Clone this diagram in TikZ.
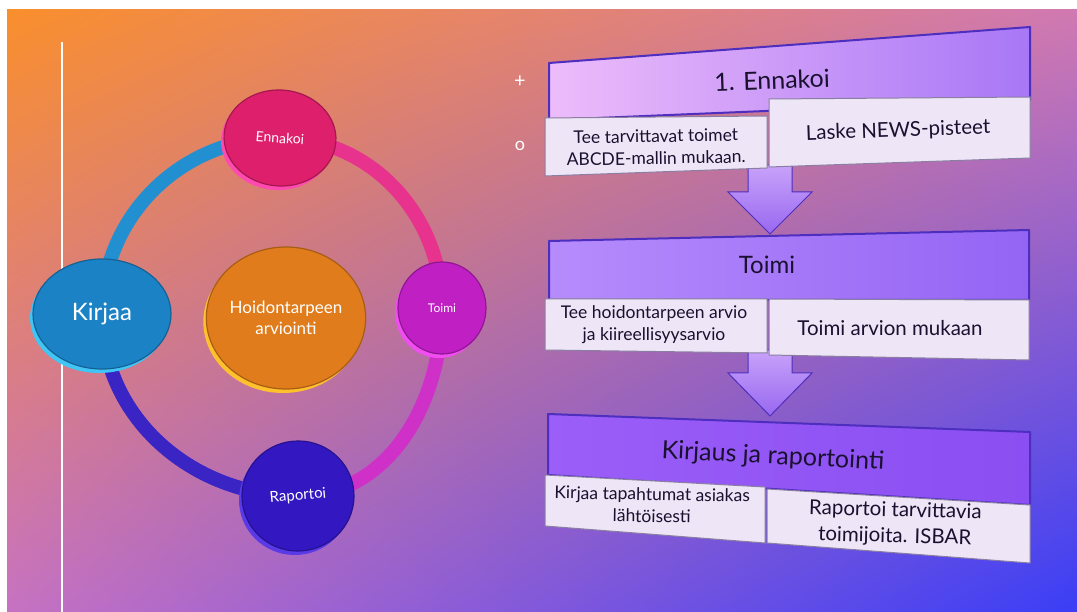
\documentclass[tikz,border=0pt]{standalone}
\usepackage{fontspec}
\setmainfont{Lato}
\usetikzlibrary{positioning,shapes.geometric,shadows,shadings,backgrounds}

\definecolor{bgorange}{HTML}{F98F2C}
\definecolor{bgmauve}{HTML}{D079B2}
\definecolor{bgmauveb}{HTML}{C672C2}
\definecolor{bgblue}{HTML}{3A3EF6}
\definecolor{ennfill}{HTML}{DE1F6C}
\definecolor{ennrim}{HTML}{FF4AB0}
\definecolor{toifill}{HTML}{C01FC4}
\definecolor{toirim}{HTML}{F04EF0}
\definecolor{rapfill}{HTML}{3318C2}
\definecolor{raprim}{HTML}{5A3AE6}
\definecolor{kirfill}{HTML}{1C82C6}
\definecolor{kirrim}{HTML}{3FC6F6}
\definecolor{hoifill}{HTML}{E07C1C}
\definecolor{hoirim}{HTML}{FFC02E}
\definecolor{ringblue}{HTML}{2290D0}
\definecolor{ringpink}{HTML}{E8338E}
\definecolor{ringmag}{HTML}{CF30C8}
\definecolor{ringind}{HTML}{3A24C4}
\definecolor{hdredge}{HTML}{4E2EBE}
\definecolor{h1l}{HTML}{EDBCFA}
\definecolor{h1r}{HTML}{A877F6}
\definecolor{h2l}{HTML}{B68CFC}
\definecolor{h2r}{HTML}{9464F4}
\definecolor{h3l}{HTML}{9B5EF8}
\definecolor{h3r}{HTML}{8A4EF2}
\definecolor{cellfill}{HTML}{EEE6F6}
\definecolor{celledge}{HTML}{8A7FA2}
\definecolor{boxtext}{HTML}{1A1030}
\definecolor{arrowlight}{HTML}{C8A2FA}
\definecolor{arrowdark}{HTML}{9868F0}

\begin{document}
\begin{tikzpicture}[x=1pt,y=-1pt,
  disc/.style 2 args={ellipse, fill=#1, draw=#1!75!black, line width=1.2pt,
    text=white, align=center, inner sep=0pt,
    general shadow={fill=#2, shadow xshift=-3pt, shadow yshift=-4pt}},
  ring/.style={line width=14pt},
  hdr/.style={draw=hdredge, line width=2pt, line join=round},
  cell/.style={fill=cellfill, draw=celledge, line width=1pt},
  hdrtext/.style={text=boxtext, font=\fontsize{24}{28}\selectfont},
  celltext/.style={text=boxtext, font=\fontsize{17.5}{22}\selectfont, align=center},
  bigcell/.style={text=boxtext, font=\fontsize{20.5}{26}\selectfont, align=center},
  blockarrow/.style={top color=arrowlight, bottom color=arrowdark, draw=hdredge, line width=1pt}
]
\useasboundingbox (0,0) rectangle (1077,612);
\begin{scope}[on background layer]
  \fill[white] (0,0) rectangle (1077,612);
  \shade[upper left=bgorange, upper right=bgmauve, lower left=bgmauveb, lower right=bgblue]
    (7,10) rectangle (1077,612);
  \draw[white, line width=2pt] (62,42) -- (62,612);
\end{scope}

% cycle on the left
\node[disc={hoifill}{hoirim}, minimum width=152pt, minimum height=142pt,
  font=\fontsize{17}{21}\selectfont] (hoito) at (286,318) {Hoidontarpeen\\arviointi};
\node[disc={ennfill}{ennrim}, minimum width=112pt, minimum height=96pt,
  font=\fontsize{14}{16}\selectfont, rotate=-4] (ennakoi) at (280,138) {Ennakoi};
\node[disc={toifill}{toirim}, minimum width=88pt, minimum height=92pt,
  font=\fontsize{12}{14}\selectfont] (toimi) at (442,308) {Toimi};
\node[disc={rapfill}{raprim}, minimum width=112pt, minimum height=110pt,
  font=\fontsize{15}{17}\selectfont, rotate=5] (raportoi) at (298,496) {Raportoi};
\node[disc={kirfill}{kirrim}, minimum width=138pt, minimum height=110pt,
  font=\fontsize{24}{28}\selectfont] (kirjaa) at (102,314) {Kirjaa};

\begin{scope}[on background layer]
  \draw[ring, ringblue] (kirjaa.center) to[out=90, in=180] (ennakoi.center);
  \draw[ring, ringpink] (ennakoi.center) to[out=0, in=90] (toimi.center);
  \draw[ring, ringmag] (toimi.center) to[out=-90, in=0] (raportoi.center);
  \draw[ring, ringind] (raportoi.center) to[out=180, in=-90] (kirjaa.center);
\end{scope}

% bullets
\node[text=white, font=\fontsize{20}{24}\selectfont] (plus) at (520,82) {+};
\node[text=white, font=\fontsize{18}{22}\selectfont] (bullet) at (520,146) {o};

% arrows between the blocks
\path[blockarrow] (748,165) -- (792,165) -- (792,192) -- (812,192) -- (770,234)
  -- (728,192) -- (748,192) -- cycle;
\path[blockarrow] (748,350) -- (792,350) -- (792,373) -- (812,373) -- (770,416)
  -- (728,373) -- (748,373) -- cycle;

% block 1
\path[hdr, left color=h1l, right color=h1r] (549,63) -- (1030,27) -- (1030,100) -- (549,120) -- cycle;
\path[cell] (545,118) -- (767,116) -- (767,168) -- (545,176) -- cycle;
\path[cell] (769,99) -- (1030,97) -- (1030,158) -- (769,167) -- cycle;
\node[hdrtext, font=\fontsize{25}{30}\selectfont, rotate=2] (h1) at (772,80) {1. Ennakoi};
\node[celltext, rotate=1] (c1a) at (656,147) {Tee tarvittavat toimet\\ABCDE-mallin mukaan.};
\node[bigcell, rotate=2] (c1b) at (898,131) {Laske NEWS-pisteet};

% block 2
\path[hdr, left color=h2l, right color=h2r] (549,241) -- (1029,230) -- (1029,300) -- (549,300) -- cycle;
\path[cell] (545,299) -- (767,299) -- (767,353) -- (545,350) -- cycle;
\path[cell] (769,299) -- (1029,300) -- (1029,360) -- (769,355) -- cycle;
\node[hdrtext] (h2) at (767,265) {Toimi};
\node[celltext] (c2a) at (654,325) {Tee hoidontarpeen arvio\\ja kiireellisyysarvio};
\node[bigcell] (c2b) at (890,328) {Toimi arvion mukaan};

% block 3
\path[hdr, left color=h3l, right color=h3r] (548,414) -- (1030,432) -- (1030,505) -- (548,475) -- cycle;
\path[cell] (545,475) -- (765,487) -- (765,543) -- (545,526) -- cycle;
\path[cell] (767,489) -- (1030,505) -- (1030,563) -- (767,543) -- cycle;
\node[hdrtext, font=\fontsize{25}{30}\selectfont, rotate=-3] (h3) at (773,457) {Kirjaus ja raportointi};
\node[celltext, rotate=-1] (c3a) at (652,505) {Kirjaa tapahtumat asiakas\\lähtöisesti};
\node[bigcell, rotate=-1.5] (c3b) at (895,524) {Raportoi tarvittavia\\toimijoita. ISBAR};
\end{tikzpicture}
\end{document}
